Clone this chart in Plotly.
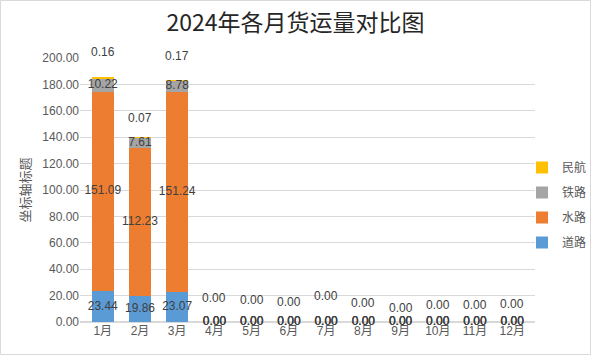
import plotly.graph_objects as go

months = ["1月", "2月", "3月", "4月", "5月", "6月", "7月", "8月", "9月", "10月", "11月", "12月"]
road = [23.44, 19.86, 23.07, 0, 0, 0, 0, 0, 0, 0, 0, 0]
water = [151.09, 112.23, 151.24, 0, 0, 0, 0, 0, 0, 0, 0, 0]
rail = [10.22, 7.61, 8.78, 0, 0, 0, 0, 0, 0, 0, 0, 0]
air = [0.16, 0.07, 0.17, 0, 0, 0, 0, 0, 0, 0, 0, 0]
series_names = ["道路", "水路", "铁路", "民航"]
colors = ["#5B9BD5", "#ED7D31", "#A5A5A5", "#FFC000"]
# vertical pixel lift of the 民航 labels (as placed in the original)
air_label_lift = [26, 20, 24, 24, 22, 20, 26, 19, 14, 17, 17, 18]

W, H = 591, 355
L, R, T, B = 80, 56, 58, 33
FONT = "Liberation Sans, Noto Sans CJK SC"
LABEL_COLOR = "#404040"

fig = go.Figure()
series = [road, water, rail, air]
for i, (name, vals) in enumerate(zip(series_names, series)):
    fig.add_trace(go.Bar(
        x=months, y=vals, name=name, marker_color=colors[i],
        marker_line_width=0, legendgroup=name, legendrank=len(series) - i,
        width=0.58,
    ))

# labels centered inside segments (road, water, rail)
base = [0.0] * len(months)
for vals in [road, water, rail]:
    mids = [b + v / 2 for b, v in zip(base, vals)]
    fig.add_trace(go.Scatter(
        x=months, y=mids, mode="text", text=[f"{v:.2f}" for v in vals],
        textfont=dict(family=FONT, size=12, color=LABEL_COLOR),
        showlegend=False, hoverinfo="skip", cliponaxis=False,
    ))
    base = [b + v for b, v in zip(base, vals)]

# 民航 labels above stack
for m, b, v, lift in zip(months, base, air, air_label_lift):
    fig.add_annotation(
        x=m, y=b + v, text=f"{v:.2f}", showarrow=False, yshift=lift,
        font=dict(family=FONT, size=12, color=LABEL_COLOR),
    )

pw = W - L - R
ph = H - T - B
fig.add_shape(type="rect", xref="paper", yref="paper",
              x0=(0.5 - L) / pw, x1=(W - 0.5 - L) / pw,
              y0=-(B - 0.5) / ph, y1=(ph + T - 0.5) / ph,
              line=dict(color="#D9D9D9", width=1))

fig.update_layout(
    width=W, height=H,
    margin=dict(l=L, r=R, t=T, b=B, autoexpand=False),
    barmode="stack",
    plot_bgcolor="white", paper_bgcolor="white",
    title=dict(text="2024年各月货运量对比图", x=0.5, xref="container", y=1 - 23 / H,
               yanchor="middle", xanchor="center",
               font=dict(family="Noto Sans CJK SC", size=23, color="#262626")),
    font=dict(family=FONT, size=12, color="#595959"),
    legend=dict(x=(522 - L) / pw, y=(H - B - 153) / ph, xanchor="left", yanchor="top",
                traceorder="grouped", tracegroupgap=6, itemwidth=30,
                font=dict(family="Noto Sans CJK SC", size=12, color="#595959"),
                bgcolor="rgba(0,0,0,0)"),
    showlegend=True,
)
fig.update_xaxes(showgrid=False, showline=False, ticks="", automargin=False,
                 tickfont=dict(family=FONT, size=12, color="#595959"))
fig.update_yaxes(range=[0, 200], dtick=20, tickformat=".2f", showgrid=True, automargin=False,
                 gridcolor="#D9D9D9", gridwidth=1, zeroline=True, zerolinecolor="#D9D9D9",
                 title=dict(text="坐标轴标题", standoff=8,
                            font=dict(family="Noto Sans CJK SC", size=13, color="#595959")),
                 tickfont=dict(family=FONT, size=12, color="#595959"))

fig.write_html("out.html", post_script="document.body.style.margin='0';",
               config={"displayModeBar": False})
